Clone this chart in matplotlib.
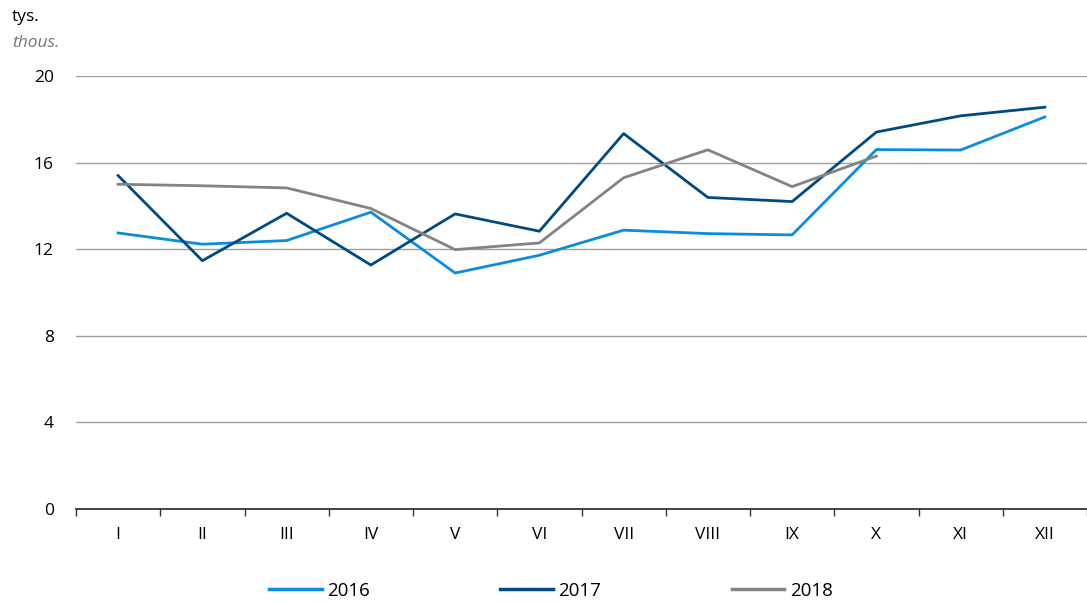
import numpy as np
import matplotlib
matplotlib.use("Agg")
import matplotlib.pyplot as plt

plt.rcParams['font.family'] = ['Open Sans', 'DejaVu Sans']

months = ['I', 'II', 'III', 'IV', 'V', 'VI', 'VII', 'VIII', 'IX', 'X', 'XI', 'XII']
y2016 = [12.75, 12.23, 12.40, 13.71, 10.90, 11.72, 12.88, 12.72, 12.66, 16.60, 16.58, 18.11]
y2017 = [15.40, 11.47, 13.66, 11.27, 13.63, 12.83, 17.34, 14.39, 14.20, 17.41, 18.16, 18.56]
y2018 = [15.00, 14.93, 14.83, 13.88, 11.98, 12.29, 15.30, 16.59, 14.89, 16.30]
yticks = [0, 4, 8, 12, 16, 20]

fig = plt.figure(figsize=(10.87, 6.03), dpi=100)
ax = fig.add_axes([76/1087, 1 - 509/603, 1 - 76/1087, (509 - 76)/603])

x = np.arange(1, 13)
ax.plot(x, y2016, color='#0a8de0', lw=2.0, label='2016')
ax.plot(x, y2017, color='#004a84', lw=2.0, label='2017')
ax.plot(x[:len(y2018)], y2018, color='#838383', lw=2.0, label='2018')

ax.set_xlim(0.5, 12.5)
ax.set_ylim(0, 20)
ax.set_yticks(yticks)
ax.set_yticklabels([str(v) for v in yticks], fontsize=12.5)
ax.tick_params(axis='y', length=0, pad=16)
for v in yticks[1:]:
    ax.axhline(v, color='#a0a0a0', lw=1.0, zorder=0)

ax.set_xticks(x)
ax.set_xticklabels(months, fontsize=12.5)
ax.set_xticks(np.arange(0.5, 13.0, 1.0), minor=True)
ax.tick_params(axis='x', which='major', length=0, pad=13)
ax.tick_params(axis='x', which='minor', length=5, width=1, color='#333333')

for s in ['left', 'right', 'top']:
    ax.spines[s].set_visible(False)
ax.spines['bottom'].set_color('#222222')
ax.spines['bottom'].set_linewidth(1.2)

fig.text(12/1087, 1 - 17/603, 'tys.', fontsize=12.5, va='center', ha='left')
fig.text(12/1087, 1 - 43/603, 'thous.', fontsize=12.5, va='center', ha='left',
         style='italic', color='#777777')

leg = fig.legend(loc='center', bbox_to_anchor=(551/1087, 1 - 591/603), ncol=3,
                 frameon=False, fontsize=13.5, handlelength=2.8, columnspacing=6.95,
                 handletextpad=0.3)
for h in leg.get_lines():
    h.set_linewidth(2.5)

fig.savefig('out.png', dpi=100)
